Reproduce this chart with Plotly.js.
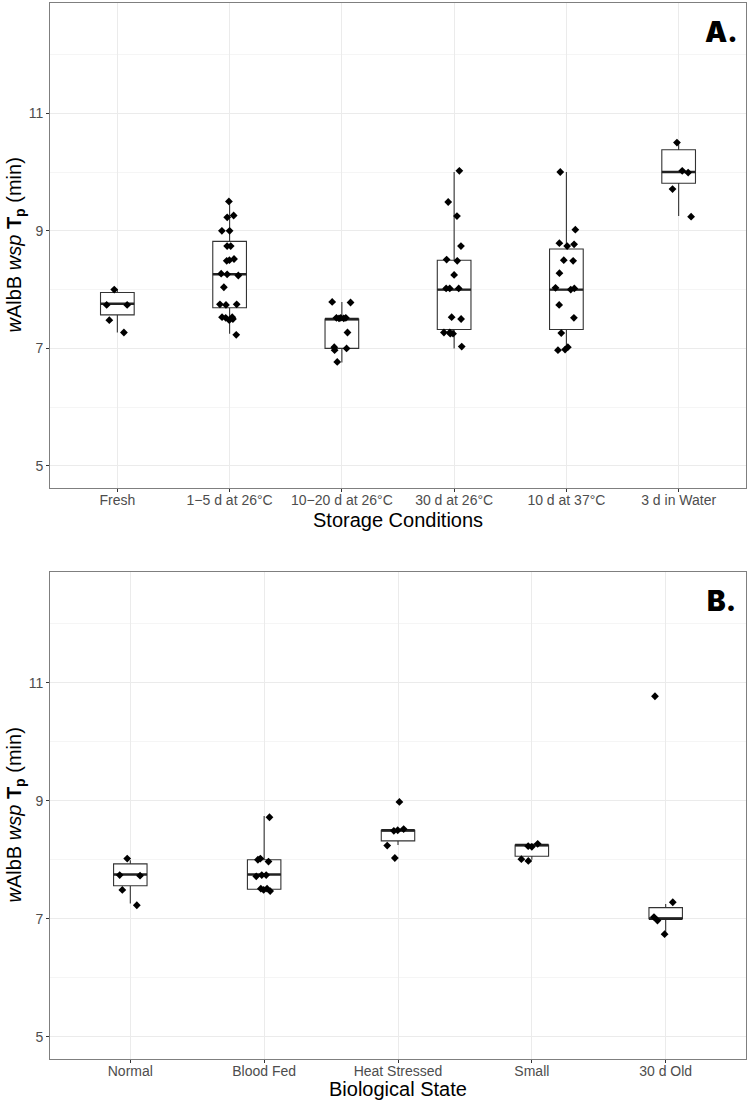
<!DOCTYPE html>
<html>
<head>
<meta charset="utf-8">
<script src="https://cdn.plot.ly/plotly-3.0.1.min.js"></script>
<style>
  body { margin: 0; background: #ffffff; }
  #graph { width: 750px; height: 1101px; }
</style>
</head>
<body>
<div id="graph"></div>
<script>
// panel A - storage conditions
const storageCats = ['Fresh', '1\u22125 d at 26\u00B0C', '10\u221220 d at 26\u00B0C', '30 d at 26\u00B0C', '10 d at 37\u00B0C', '3 d in Water'];
const storageLow = [7.27, 7.25, 6.76, 7.0, 6.97, 9.25];
const storageQ1 = [7.57, 7.69, 7.0, 7.32, 7.32, 9.81];
const storageMed = [7.76, 8.26, 7.5, 8.0, 8.0, 10.0];
const storageQ3 = [7.95, 8.82, 7.5, 8.5, 8.69, 10.38];
const storageHigh = [8.0, 9.5, 7.79, 10.0, 10.0, 10.5];
const storagePoints = [
  [8.0, 7.74, 7.74, 7.48, 7.27],
  [9.5, 9.26, 9.23, 9.0, 9.0, 8.74, 8.74, 8.5, 8.52, 8.49, 8.26, 8.27, 8.24, 8.04, 7.74, 7.75, 7.75, 7.53, 7.53, 7.52, 7.48, 7.5, 7.23],
  [7.78, 7.79, 7.51, 7.52, 7.52, 7.51, 7.52, 7.27, 7.02, 7.0, 6.97, 6.77],
  [10.02, 9.49, 9.25, 8.74, 8.51, 8.49, 8.25, 8.02, 8.02, 8.02, 7.5, 7.53, 7.27, 7.25, 7.25, 7.27, 7.03],
  [10.0, 9.02, 8.77, 8.79, 8.74, 8.49, 8.5, 8.28, 8.03, 8.02, 8.0, 7.74, 7.52, 7.26, 6.98, 6.97, 7.02],
  [10.5, 10.02, 9.99, 9.71, 9.24]
];

// panel B - biological state
const bioCats = ['Normal', 'Blood Fed', 'Heat Stressed', 'Small', '30 d Old'];
const bioLow = [7.26, 7.5, 8.25, 8.0, 6.76];
const bioQ1 = [7.56, 7.5, 8.32, 8.06, 7.0];
const bioMed = [7.75, 7.75, 8.5, 8.25, 7.0];
const bioQ3 = [7.93, 8.0, 8.5, 8.25, 7.19];
const bioHigh = [7.99, 8.74, 8.5, 8.27, 7.25];
const bioPoints = [
  [8.02, 7.73, 7.74, 7.49, 7.23],
  [8.72, 8.02, 8.0, 7.97, 7.72, 7.74, 7.74, 7.51, 7.47, 7.49, 7.51],
  [8.98, 8.49, 8.52, 8.5, 8.24, 8.03],
  [8.23, 8.22, 8.27, 7.98, 8.01],
  [10.77, 7.28, 6.97, 7.03, 6.74]
];

const yTicks = [5, 7, 9, 11];
const yRange = [4.625, 12.875];

const W = 750, H = 1101;
const FONT = 'Liberation Sans, Arial, sans-serif';

const boxTraces = (cats, low, q1, med, q3, high, pts, xa, ya, w) => {
  const px = [];
  const py = [];
  pts.forEach((arr, i) => {
    arr.forEach(v => { px.push(cats[i]); py.push(v); });
  });
  const base = {
    type: 'box', x: cats, xaxis: xa, yaxis: ya, width: w,
    whiskerwidth: 0, boxpoints: false, hoverinfo: 'skip'
  };
  const box = Object.assign({}, base, {
    q1: q1, median: med, q3: q3, lowerfence: low, upperfence: high,
    fillcolor: '#ffffff', line: { color: '#333333', width: 1.1 }
  });
  // thicker median line, like ggplot
  const medLine = Object.assign({}, base, {
    q1: med, median: med, q3: med, lowerfence: med, upperfence: med,
    fillcolor: 'rgba(0,0,0,0)', line: { color: '#222222', width: 2.4 }
  });
  const points = {
    type: 'box', x: px, y: py, xaxis: xa, yaxis: ya, width: w,
    boxpoints: 'all', jitter: 0.75, pointpos: 0,
    fillcolor: 'rgba(0,0,0,0)', line: { width: 0, color: 'rgba(0,0,0,0)' },
    marker: { symbol: 'diamond', size: 6, color: '#000000' },
    whiskerwidth: 0
  };
  return [box, medLine, points];
};

const xAxis = (cats, domain, anchor) => ({
  domain: domain, anchor: anchor, type: 'category',
  categoryorder: 'array', categoryarray: cats,
  range: [-0.6, cats.length - 0.4],
  showgrid: true, gridcolor: '#ebebeb', gridwidth: 1,
  showline: true, mirror: true, linecolor: '#7f7f7f', linewidth: 1,
  ticks: 'outside', ticklen: 3, tickcolor: '#333333',
  ticklabelstandoff: -4,
  tickfont: { family: FONT, size: 14, color: '#4d4d4d' },
  zeroline: false, fixedrange: true
});

const yAxis = (domain, anchor) => ({
  domain: domain, anchor: anchor, range: yRange,
  tickmode: 'array', tickvals: yTicks,
  showgrid: true, gridcolor: '#ebebeb', gridwidth: 1,
  minor: { dtick: 1, tick0: 5, showgrid: true, gridcolor: '#f3f3f3', gridwidth: 0.8, ticks: '' },
  showline: true, mirror: true, linecolor: '#7f7f7f', linewidth: 1,
  ticks: 'outside', ticklen: 3, tickcolor: '#333333',
  tickfont: { family: FONT, size: 14, color: '#4d4d4d' },
  zeroline: false, fixedrange: true
});

// pixel -> paper helpers
const px2x = (p) => p / W;
const px2y = (p) => 1 - p / H;

const yTitle = '<i>w</i>AlbB <i>wsp</i> <b>T<sub>p</sub></b> (min)';
const panelFont = { family: 'Inter, DejaVu Sans, sans-serif', size: 28, weight: 900, color: '#000000' };

const drawChart = () => {
  const data = [].concat(
    boxTraces(storageCats, storageLow, storageQ1, storageMed, storageQ3, storageHigh, storagePoints, 'x', 'y', 0.3),
    boxTraces(bioCats, bioLow, bioQ1, bioMed, bioQ3, bioHigh, bioPoints, 'x2', 'y2', 0.25)
  );

  const note = (text, x, y, size, extra) => Object.assign({
    text: text, xref: 'paper', yref: 'paper', x: px2x(x), y: px2y(y),
    xanchor: 'center', yanchor: 'middle', showarrow: false,
    font: { family: FONT, size: size, color: '#000000' }
  }, extra || {});

  const layout = {
    width: W, height: H,
    margin: { l: 0, r: 0, t: 0, b: 0 },
    paper_bgcolor: '#ffffff', plot_bgcolor: '#ffffff',
    showlegend: false, boxmode: 'overlay',
    xaxis: xAxis(storageCats, [px2x(50), px2x(746)], 'y'),
    yaxis: yAxis([px2y(488), px2y(3)], 'x'),
    xaxis2: xAxis(bioCats, [px2x(50), px2x(746)], 'y2'),
    yaxis2: yAxis([px2y(1059), px2y(572)], 'x2'),
    annotations: [
      note('Storage Conditions', 398, 520, 20),
      note('Biological State', 398, 1089, 20),
      note(yTitle, 15, 245.5, 20, { textangle: -90 }),
      note(yTitle, 15, 815.5, 20, { textangle: -90 }),
      note('A.', 721, 32, 28, { font: panelFont }),
      note('B.', 721, 601, 28, { font: panelFont })
    ]
  };

  Plotly.newPlot('graph', data, layout, { staticPlot: true });
};

drawChart();
</script>
</body>
</html>
